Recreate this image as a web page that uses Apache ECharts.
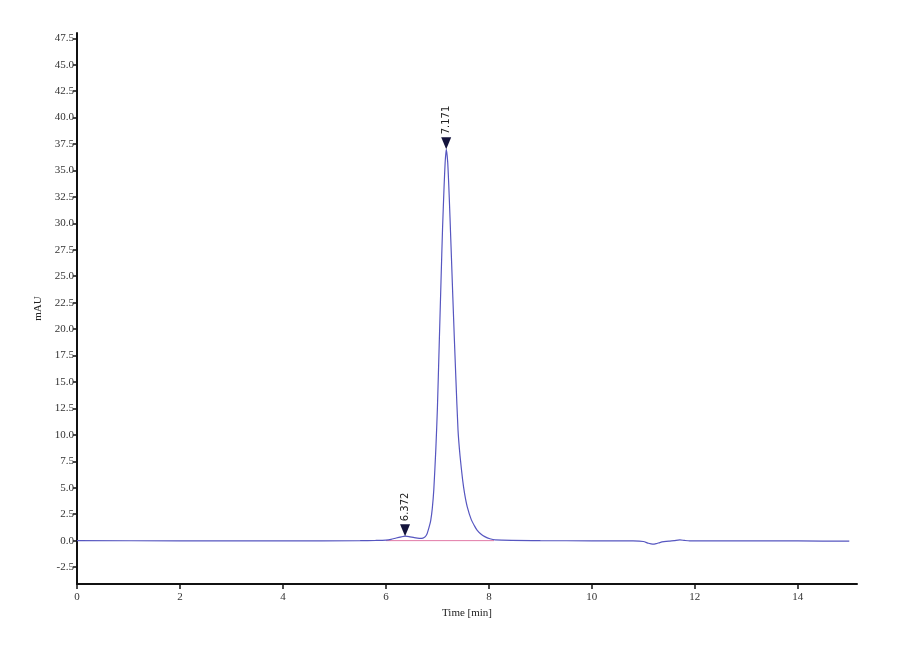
<!DOCTYPE html>
<html>
<head>
<meta charset="utf-8">
<script src="https://cdn.jsdelivr.net/npm/echarts@6/dist/echarts.min.js"></script>
<style>
  html, body { margin: 0; padding: 0; background: #fff; }
  #main { width: 900px; height: 660px; }
</style>
</head>
<body>
<div id="main"></div>
<script>
// chromatogram trace, time [min] and mAU
const times = [
  0, 2, 4, 5.5, 5.8, 6.0, 6.1, 6.2, 6.3, 6.372, 6.45, 6.55, 6.65, 6.72, 6.76,
  6.80, 6.84, 6.87, 6.90, 6.93, 6.97, 7.00, 7.035, 7.07, 7.10, 7.13, 7.15, 7.171,
  7.20, 7.23, 7.26, 7.30, 7.33, 7.36, 7.40, 7.44, 7.49, 7.53, 7.58, 7.66, 7.72,
  7.77, 7.85, 7.92, 8.02, 8.12, 9, 10, 10.8, 11.0, 11.1, 11.18, 11.25, 11.32, 11.4,
  11.5, 11.6, 11.71, 11.8, 11.9, 12.5, 14, 15,
];
const mau = [
  0.0, -0.02, -0.03, 0.0, 0.02, 0.05, 0.12, 0.25, 0.36, 0.42, 0.38, 0.28, 0.22, 0.24, 0.35,
  0.66, 1.3, 1.9, 3.0, 4.8, 8.7, 12.5, 18.5, 24.5, 29.5, 33.5, 35.7, 37.0,
  35.8, 32.5, 28.5, 23.0, 19.0, 15.2, 10.5, 8.0, 5.74, 4.4, 3.2, 1.96, 1.4,
  1.0, 0.6, 0.38, 0.18, 0.07, 0.0, -0.02, -0.03, -0.08, -0.25, -0.33, -0.28, -0.18, -0.1,
  -0.04, 0.0, 0.07, 0.02, -0.02, -0.02, -0.03, -0.05,
];
// integration baseline under the peaks
const baseTimes = [6.0, 8.1];
const baseMau = [0, 0];
// peak marks
const peakTimes = [6.372, 7.171];
const peakMau = [0.42, 37.0];
const peakLabels = ['6.372', '7.171'];
// tick labels
const xTicks = [0, 2, 4, 6, 8, 10, 12, 14];
const yTicks = [-2.5, 0, 2.5, 5, 7.5, 10, 12.5, 15, 17.5, 20, 22.5, 25, 27.5, 30,
  32.5, 35, 37.5, 40, 42.5, 45, 47.5];

const serif = 'Liberation Serif';
const chart = echarts.init(document.getElementById('main'));

chart.setOption({
  animation       : false,
  backgroundColor : '#ffffff',
  grid            : {
    left   : 77,
    right  : 43,
    top    : 33,
    bottom : 76,
  },
  xAxis: {
    type         : 'value',
    min          : 0,
    max          : 15.15,
    name         : 'Time [min]',
    nameLocation : 'middle',
    nameGap      : 23,
    nameTextStyle: { fontFamily: serif, fontSize: 11, color: '#222' },
    axisLine     : { onZero: false, lineStyle: { color: '#111', width: 2 } },
    axisTick     : { customValues: xTicks, length: 5, lineStyle: { color: '#111', width: 1.5 } },
    axisLabel    : {
      customValues : xTicks,
      fontFamily   : serif,
      fontSize     : 11,
      color        : '#333',
      margin       : 8,
    },
    splitLine: { show: false },
  },
  yAxis: {
    type         : 'value',
    min          : -4.1,
    max          : 48,
    name         : 'mAU',
    nameLocation : 'middle',
    nameRotate   : 90,
    nameGap      : 32,
    nameTextStyle: { fontFamily: serif, fontSize: 11, color: '#222' },
    axisLine     : { show: true, onZero: false, lineStyle: { color: '#111', width: 2 } },
    axisTick     : { show: true, customValues: yTicks, length: 4, lineStyle: { color: '#111', width: 1.5 } },
    axisLabel    : {
      customValues : yTicks,
      fontFamily   : serif,
      fontSize     : 11,
      color        : '#333',
      margin       : 3,
      formatter    : (v) => v.toFixed(1),
    },
    splitLine: { show: false },
  },
  series: [
    {
      type      : 'line',
      data      : baseTimes.map((t, i) => [t, baseMau[i]]),
      symbol    : 'none',
      lineStyle : { color: '#e27aa6', width: 1 },
      silent    : true,
      z         : 1,
    },
    {
      type      : 'line',
      data      : times.map((t, i) => [t, mau[i]]),
      symbol    : 'none',
      smooth    : 0.2,
      lineStyle : { color: '#5656c0', width: 1.2 },
      z         : 2,
      markPoint : {
        symbol       : 'triangle',
        symbolSize   : [10, 12],
        symbolRotate : 180,
        symbolOffset : [0, -6],
        itemStyle    : { color: '#14143c' },
        label        : {
          show          : true,
          position      : 'top',
          distance      : 3,
          rotate        : 90,
          align         : 'left',
          verticalAlign : 'middle',
          fontFamily    : 'DejaVu Sans',
          fontSize      : 10,
          color         : '#222',
          formatter     : (p) => p.data.name,
        },
        data: peakTimes.map((t, i) => ({ coord: [t, peakMau[i]], name: peakLabels[i] })),
      },
    },
  ],
});
</script>
</body>
</html>
